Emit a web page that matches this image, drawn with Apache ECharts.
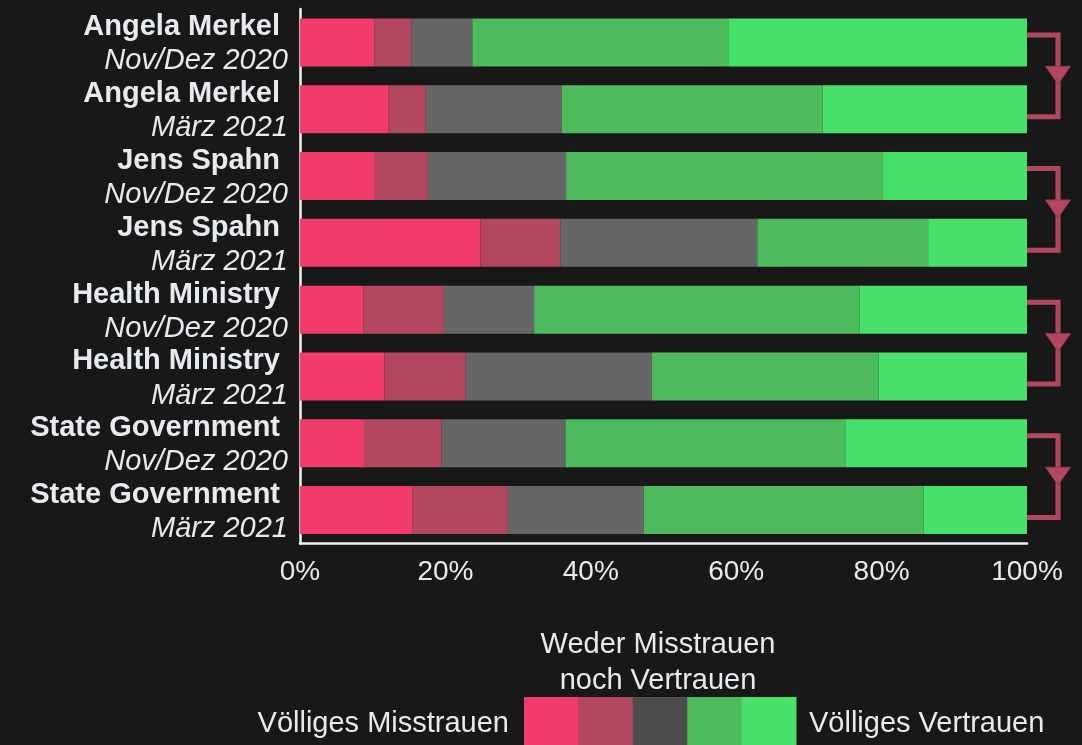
<!DOCTYPE html>
<html>
<head>
<meta charset="utf-8">
<script src="https://cdn.jsdelivr.net/npm/echarts@6/dist/echarts.min.js"></script>
<style>
  html, body { margin: 0; padding: 0; background: #181818; }
  #chart { width: 1082px; height: 745px; }
</style>
</head>
<body>
<div id="chart"></div>
<script>
// rows (top to bottom)
const rowNames = ['Angela Merkel', 'Angela Merkel', 'Jens Spahn', 'Jens Spahn',
  'Health Ministry', 'Health Ministry', 'State Government', 'State Government']
const rowDates = ['Nov/Dez 2020', 'März 2021', 'Nov/Dez 2020', 'März 2021',
  'Nov/Dez 2020', 'März 2021', 'Nov/Dez 2020', 'März 2021']

// shares in percent
const veryDistrust = [10.2, 12.2, 10.3, 24.8, 8.7, 11.6, 8.8, 15.5]
const ratherDistrust = [5.1, 5.1, 7.3, 11.0, 11.1, 11.2, 10.7, 13.1]
const neutral = [8.4, 18.7, 19.0, 27.1, 12.4, 25.6, 17.0, 18.7]
const ratherTrust = [35.2, 35.9, 43.6, 23.5, 44.8, 31.2, 38.5, 38.5]
const fullTrust = [41.1, 28.1, 19.8, 13.6, 23.0, 20.4, 25.0, 14.2]

// which rows get compared by an arrow
const comparePairs = [[0, 1], [2, 3], [4, 5], [6, 7]]

const legendLeft = 'Völliges Misstrauen'
const legendRight = 'Völliges Vertrauen'
const legendMiddle = 'Weder Misstrauen\nnoch Vertrauen'

const colors = ['#f23d6b', '#b3475f', '#666666', '#4dba5e', '#47e06b']
const legendColors = ['#f23d6b', '#b3475f', '#4d4d4d', '#4dba5e', '#47e06b']
const textColor = '#e6ebef'
const font = '"Liberation Sans", Arial, sans-serif'

const chart = echarts.init(document.getElementById('chart'))

const segments = [
  { name: 'Völliges Misstrauen', data: veryDistrust },
  { name: 'Eher Misstrauen', data: ratherDistrust },
  { name: 'Weder noch', data: neutral },
  { name: 'Eher Vertrauen', data: ratherTrust },
  { name: 'Völliges Vertrauen', data: fullTrust }
]

const barSeries = segments.map((s, i) => ({
  name: s.name,
  type: 'bar',
  stack: 'total',
  barWidth: 48,
  itemStyle: { color: colors[i] },
  data: s.data
}))

// legend color strip
const boxW = 54.4
const boxLeft = 524
const legendBoxes = legendColors.map((c, i) => ({
  type: 'rect',
  left: boxLeft + i * boxW,
  top: 697,
  shape: { width: boxW + 0.5, height: 48 },
  style: { fill: c }
}))

chart.setOption({
  backgroundColor: '#181818',
  animation: false,
  grid: { left: 300, right: 55, top: 9, bottom: 201.5 },
  xAxis: {
    type: 'value',
    min: 0,
    max: 100,
    interval: 20,
    axisLine: { show: true, lineStyle: { color: '#f2f2f2', width: 2.5 } },
    axisTick: { show: false },
    splitLine: { show: false },
    axisLabel: {
      formatter: '{value}%',
      color: textColor,
      fontSize: 28,
      fontFamily: font,
      margin: 15
    }
  },
  yAxis: {
    type: 'category',
    inverse: true,
    data: rowNames.map((n, i) => n + '|' + rowDates[i]),
    axisLine: { show: true, lineStyle: { color: '#f2f2f2', width: 2.5 } },
    axisTick: { show: false },
    axisLabel: {
      margin: 12,
      align: 'right',
      padding: [4, 0, 0, 0],
      formatter: (v) => {
        const [n, d] = v.split('|')
        return '{n|' + n + '}\n{d|' + d + '}'
      },
      rich: {
        n: { fontWeight: 'bold', fontSize: 29, lineHeight: 34, color: textColor, fontFamily: font, padding: [0, 8, 0, 0], align: 'right' },
        d: { fontStyle: 'italic', fontSize: 29, lineHeight: 34, color: textColor, fontFamily: font, align: 'right' }
      }
    }
  },
  series: barSeries.concat([{
    type: 'custom',
    name: 'compare',
    clip: false,
    z: 5,
    encode: { x: 0, y: 1 },
    data: comparePairs.map(p => [100, p[0], p[1]]),
    renderItem: (params, api) => {
      const a = api.coord([api.value(0), api.value(1)])
      const b = api.coord([api.value(0), api.value(2)])
      const mid = (a[1] + b[1]) / 2
      const half = (b[1] - a[1]) / 2 + 7.5
      const x0 = a[0]
      const x1 = x0 + 31
      return {
        type: 'group',
        children: [{
          type: 'polyline',
          shape: { points: [[x0, mid - half], [x1, mid - half], [x1, mid + half], [x0, mid + half]] },
          style: { stroke: '#b3475f', lineWidth: 5, fill: null }
        }, {
          type: 'polygon',
          shape: { points: [[x1 - 12.5, mid - 9.5], [x1 + 12.5, mid - 9.5], [x1, mid + 8.5]] },
          style: { fill: '#b3475f', stroke: '#8e3a4d', lineWidth: 1 }
        }]
      }
    }
  }]),
  graphic: legendBoxes.concat([
    {
      type: 'text',
      x: 509,
      y: 724,
      style: { text: legendLeft, fill: textColor, fontSize: 29, fontFamily: font, align: 'right', verticalAlign: 'middle' }
    },
    {
      type: 'text',
      x: 809,
      y: 724,
      style: { text: legendRight, fill: textColor, fontSize: 29, fontFamily: font, align: 'left', verticalAlign: 'middle' }
    },
    {
      type: 'text',
      x: 658,
      y: 663,
      style: { text: legendMiddle, fill: textColor, fontSize: 29, fontFamily: font, align: 'center', verticalAlign: 'middle', lineHeight: 36 }
    }
  ])
})
</script>
</body>
</html>
